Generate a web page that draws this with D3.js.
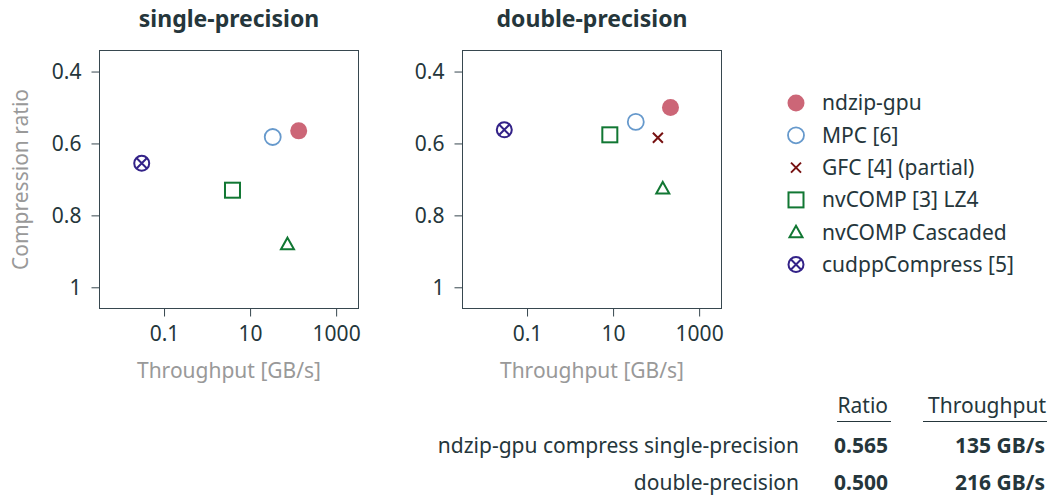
<!DOCTYPE html>
<html><head><meta charset="utf-8">
<script src="https://cdn.jsdelivr.net/npm/d3@7"></script>
<style>
body{margin:0;background:#fff;}
svg{display:block;font-family:"Noto Sans",sans-serif;}
</style></head>
<body>
<svg id="chart" width="1047" height="497"></svg>
<script>
// ---- data ----
const methods = ["ndzip-gpu","MPC [6]","GFC [4] (partial)","nvCOMP [3] LZ4","nvCOMP Cascaded","cudppCompress [5]"];
const panelTitles = ["single-precision","double-precision"];
// throughput GB/s, compression ratio (null = not available)
const singleThroughput = [135, 33.6, null, 3.9, 74, 0.0303];
const singleRatio      = [0.565, 0.582, null, 0.730, 0.880, 0.655];
const doubleThroughput = [216, 33.7, 110, 8.4, 143, 0.0296];
const doubleRatio      = [0.500, 0.540, 0.584, 0.576, 0.725, 0.562];
const xTicks = [0.1, 10, 1000];
const yTicks = [0.4, 0.6, 0.8, 1];
const tableHeader = ["Ratio","Throughput"];
const tableRowLabels = ["ndzip-gpu compress single-precision","double-precision"];
const tableRatio = ["0.565","0.500"];
const tableThroughput = ["135 GB/s","216 GB/s"];

const colors = ["#CC6677","#6699CC","#771111","#117733","#117733","#332288"];
const shapes = ["dot","circle","x","square","triangle","oplus"];
const textColor = "#25363b";
const labelColor = "#999999";
const frameColor = "#37474f";
const fs = "21px";

const svg = d3.select("#chart");
const pw = 259, ph = 258;
const panelX = [99.5, 462.5], panelY = 50.5;

const x = d3.scaleLog().domain([Math.pow(10,-2.5), Math.pow(10,3.52)]).range([0,pw]);
const y = d3.scaleLinear().domain([0.3415, 1.059]).range([0,ph]);

function drawMarker(g, shape, color){
  const r = 8;
  if(shape==="dot"){ g.append("circle").attr("r",r+0.5).attr("fill",color); }
  else if(shape==="circle"){ g.append("circle").attr("r",r).attr("fill","none").attr("stroke",color).attr("stroke-width",1.8); }
  else if(shape==="x"){ const s=5; g.append("path").attr("d",`M${-s},${-s}L${s},${s}M${-s},${s}L${s},${-s}`).attr("stroke",color).attr("stroke-width",2); }
  else if(shape==="square"){ g.append("rect").attr("x",-7.5).attr("y",-7.5).attr("width",15).attr("height",15).attr("fill","none").attr("stroke",color).attr("stroke-width",2); }
  else if(shape==="triangle"){ g.append("path").attr("d","M0,-6.5L6.5,5L-6.5,5Z").attr("fill","none").attr("stroke",color).attr("stroke-width",2); }
  else if(shape==="oplus"){ g.append("circle").attr("r",r-0.5).attr("fill","none").attr("stroke",color).attr("stroke-width",2);
    const s=5; g.append("path").attr("d",`M${-s},${-s}L${s},${s}M${-s},${s}L${s},${-s}`).attr("stroke",color).attr("stroke-width",2); }
}

const panels = [[singleThroughput, singleRatio],[doubleThroughput, doubleRatio]];
panels.forEach((pd, pi)=>{
  const g = svg.append("g").attr("transform",`translate(${panelX[pi]},${panelY})`);
  g.append("rect").attr("width",pw).attr("height",ph).attr("fill","none").attr("stroke",frameColor).attr("stroke-width",1);
  const xa = g.append("g").attr("transform",`translate(0,${ph})`)
    .call(d3.axisBottom(x).tickValues(xTicks).tickFormat(d=>String(d)).tickSize(8).tickPadding(7));
  const ya = g.append("g").call(d3.axisLeft(y).tickValues(yTicks).tickFormat(d=>String(d)).tickSize(8).tickPadding(10));
  [xa,ya].forEach(a=>{
    a.select(".domain").remove();
    a.selectAll("line").attr("stroke",frameColor);
    a.selectAll("text").attr("fill",textColor).style("font-size",fs).style("font-family","Noto Sans");
  });
  xa.selectAll("text").attr("dy","0.85em");
  g.append("text").attr("x",pw/2).attr("y",-24).attr("text-anchor","middle")
    .attr("fill",textColor).style("font-size","23px").style("font-weight","bold").text(panelTitles[pi]);
  g.append("text").attr("x",pw/2).attr("y",ph+69).attr("text-anchor","middle")
    .attr("fill",labelColor).style("font-size",fs).text("Throughput [GB/s]");
  if(pi===0){
    g.append("text").attr("transform",`translate(-71.5,${ph/2}) rotate(-90)`).attr("text-anchor","middle")
      .attr("fill",labelColor).style("font-size",fs).text("Compression ratio");
  }
  methods.forEach((m,i)=>{
    if(pd[0][i]==null) return;
    const mg = g.append("g").attr("transform",`translate(${x(pd[0][i])},${y(pd[1][i])})`);
    drawMarker(mg, shapes[i], colors[i]);
  });
});

// legend
const lg = svg.append("g").attr("transform","translate(796,103)");
methods.forEach((m,i)=>{
  const row = lg.append("g").attr("transform",`translate(0,${i*32.3})`);
  drawMarker(row, shapes[i], colors[i]);
  row.append("text").attr("x",26).attr("y",0).attr("dy","0.35em").attr("fill",textColor)
    .style("font-size",fs).text(m);
});

// table
const tg = svg.append("g");
const colRight = [888, 1046];
const colRule = [[837, 891], [923, 1047]];
tableHeader.forEach((h,i)=>{
  tg.append("text").attr("x",colRight[i]).attr("y",413).attr("text-anchor","end")
    .attr("fill",textColor).style("font-size",fs).text(h);
  tg.append("line").attr("x1",colRule[i][0]).attr("x2",colRule[i][1]).attr("y1",421.5).attr("y2",421.5)
    .attr("stroke",textColor).attr("stroke-width",1);
});
const rowY = [452.5, 489.5];
tableRowLabels.forEach((l,i)=>{
  tg.append("text").attr("x",799).attr("y",rowY[i]).attr("text-anchor","end").attr("fill",textColor)
    .style("font-size",fs).text(l);
  tg.append("text").attr("x",colRight[0]).attr("y",rowY[i]).attr("text-anchor","end").attr("fill",textColor)
    .style("font-size",fs).style("font-weight","bold").text(tableRatio[i]);
  tg.append("text").attr("x",colRight[1]-1).attr("y",rowY[i]).attr("text-anchor","end").attr("fill",textColor)
    .style("font-size",fs).style("font-weight","bold").text(tableThroughput[i]);
});
</script>
</body></html>
